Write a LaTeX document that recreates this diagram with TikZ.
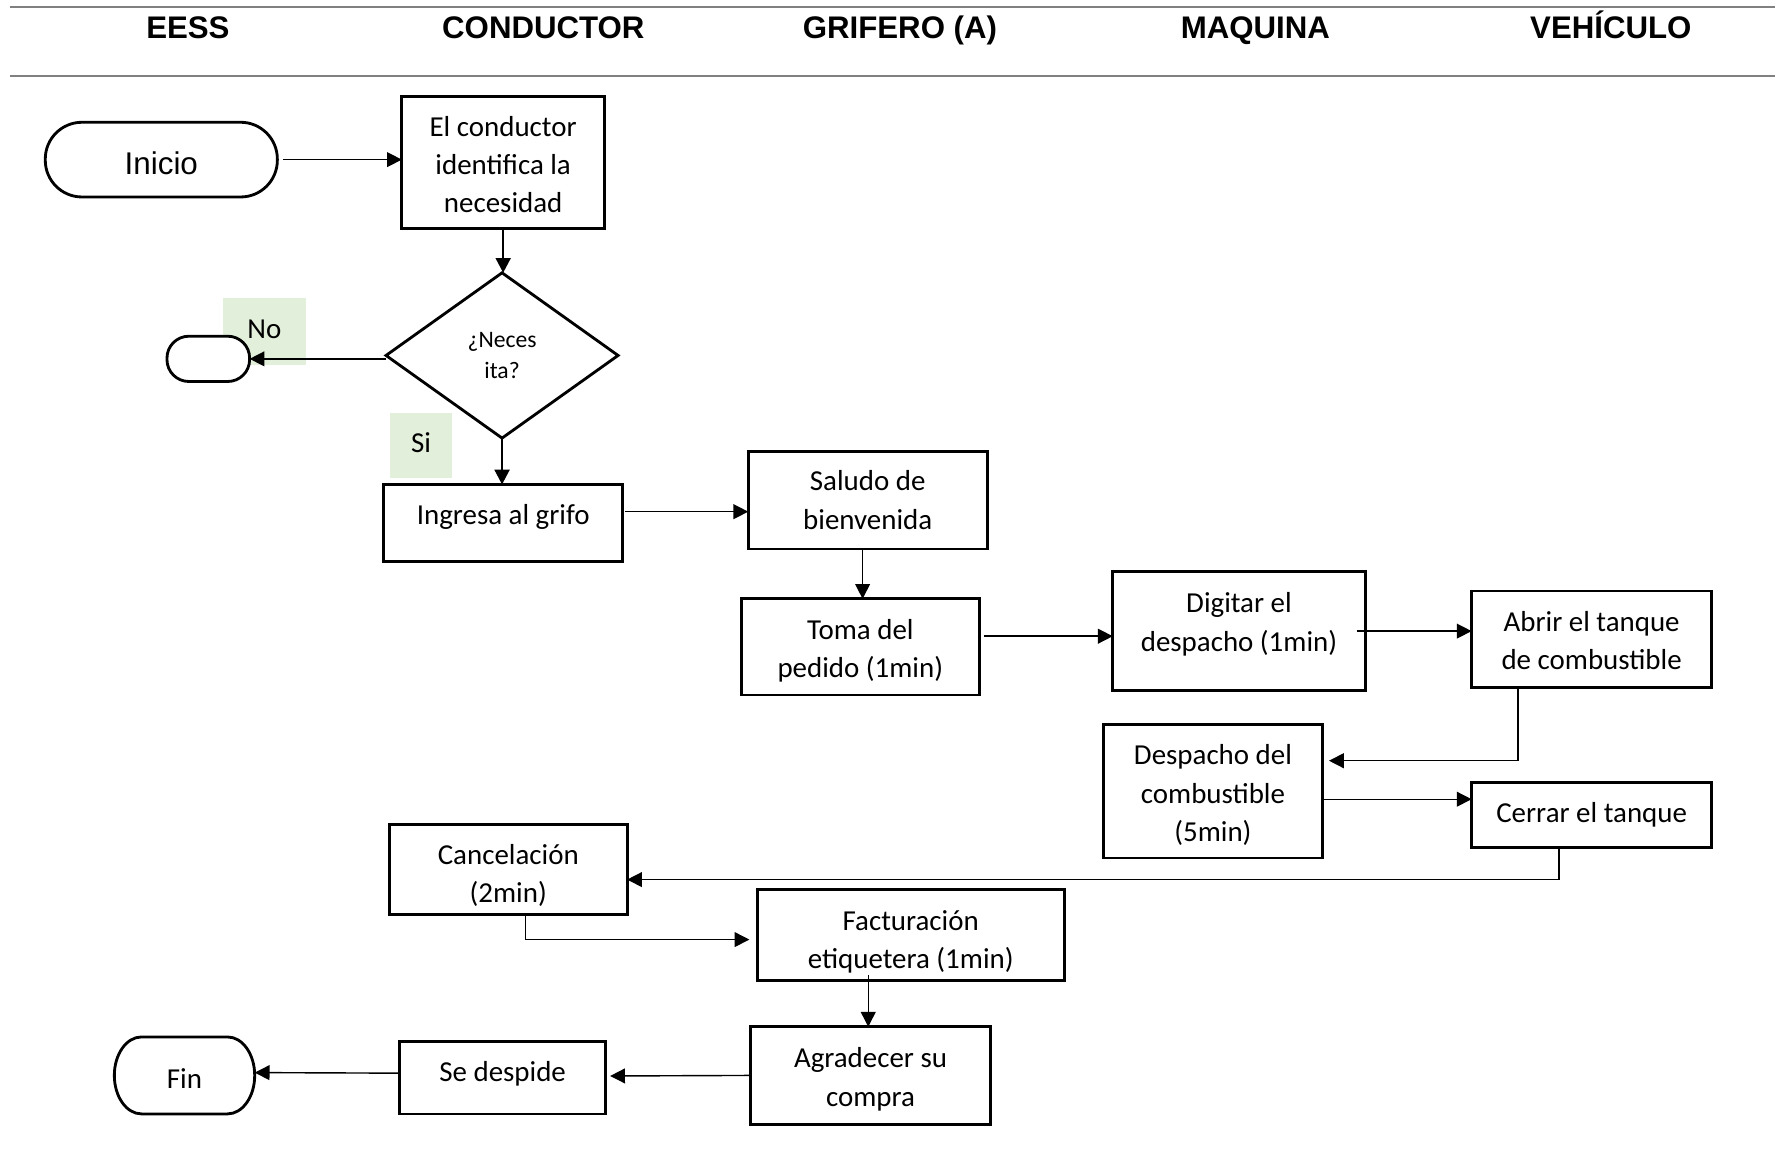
\documentclass[tikz,border=0pt]{standalone}
\usepackage{fontspec}
\setmainfont{Carlito}
\newfontfamily\arialfont{Liberation Sans}
\usetikzlibrary{shapes.geometric,calc,arrows.meta}
\definecolor{lanegray}{HTML}{808080}
\definecolor{lblgreen}{HTML}{E2EFDA}
\def\u{0.32092pt}
% centred block of lines, shifted up by #1
\newcommand\stk[2]{\raisebox{#1}[\height][\depth]{\begin{tabular}{@{}c@{}}#2\end{tabular}}}

\begin{document}
\begin{tikzpicture}[x=\u, y=-\u,
  sz/.style 2 args={minimum width=#1*\u, minimum height=#2*\u},
  cell/.style={draw, line width=0.8pt, fill=white, inner sep=0pt, outer sep=0pt,
    font=\fontsize{8.2}{10.9}\selectfont},
  term/.style={draw, line width=0.8pt, fill=white, inner sep=0pt, outer sep=0pt},
  lane/.style={draw=lanegray, line width=0.6pt},
  lanehead/.style={font=\arialfont\bfseries\fontsize{8.85}{10}\selectfont, anchor=base, inner sep=0pt},
  tag/.style={fill=lblgreen, inner sep=0pt, font=\fontsize{8.2}{10}\selectfont,
    text height=5.4pt, text depth=1.3pt},
  arr/.style={-{Triangle[length=4.2pt,width=4.2pt]}, line width=0.4pt},
  arrthick/.style={arr, line width=0.7pt}]

\useasboundingbox (0,0) rectangle (1568,1023);

% lane header
\draw[lane] (8.8,6.5) -- (1568,6.5);
\draw[lane] (8.8,67) -- (1568,67);
\node[lanehead] (h1) at (166,34) {EESS};
\node[lanehead] (h2) at (480,34) {CONDUCTOR};
\node[lanehead] (h3) at (795,34) {GRIFERO (A)};
\node[lanehead] (h4) at (1109,34) {MAQUINA};
\node[lanehead] (h5) at (1423,34) {VEHÍCULO};

% steps
\node[term, sz={205}{66}, rounded corners=10.4pt, text height=8.3pt, text depth=0pt,
  font=\arialfont\fontsize{8.9}{10}\selectfont] (ini) at (142.5,141) {Inicio};
\node[cell, sz={179}{117}] (idn) at (444.5,143.5) {\stk{-1.24pt}{El conductor\\identifica la\\necesidad}};
\node[draw, diamond, line width=0.8pt, fill=white, inner sep=0pt, outer sep=0pt,
  sz={205}{146}, align=center, font=\fontsize{6.7}{9}\selectfont] (dec) at (443.5,314) {¿Neces\\ita?};
\node[tag, sz={73}{59}] (no) at (233.5,292.5) {No};
\node[term, sz={73}{40}, rounded corners=6.2pt] (noend) at (184,317) {};
\node[tag, sz={55}{57}] (si) at (372,393.5) {Si};
\node[cell, sz={211}{68}, text height=5.4pt, text depth=4.3pt] (ing) at (444.5,462) {Ingresa al grifo};
\node[cell, sz={211}{86}] (sal) at (766.5,442) {\stk{-0.6pt}{Saludo de\\bienvenida}};
\node[cell, sz={210}{85}] (tom) at (760,571.5) {\stk{-1.08pt}{Toma del\\pedido (1min)}};
\node[cell, sz={223}{105}] (dig) at (1094.5,557.5) {\stk{1.97pt}{Digitar el\\despacho (1min)}};
\node[cell, sz={212}{85}] (abr) at (1406,564.5) {\stk{-1.08pt}{Abrir el tanque\\de combustible}};
\node[cell, sz={193}{118}] (des) at (1071.5,699) {\stk{-1.24pt}{Despacho del\\combustible\\(5min)}};
\node[cell, sz={212}{58}] (cer) at (1406,720) {Cerrar el tanque};
\node[cell, sz={210}{80}] (can) at (449,768) {\stk{-1.88pt}{Cancelación\\(2min)}};
\node[cell, sz={271}{80}] (fac) at (804.5,826) {\stk{-1.88pt}{Facturación\\etiquetera (1min)}};
\node[cell, sz={212}{86}] (agr) at (769,950) {\stk{-1.08pt}{Agradecer su\\compra}};
\node[cell, sz={182}{64}, text height=5.4pt, text depth=3.0pt] (sed) at (444,952) {Se despide};
\node[inner sep=0pt, outer sep=0pt, sz={124}{68}, text height=7.3pt, text depth=0pt,
  font=\fontsize{8.2}{10}\selectfont] (fin) at (163,950) {Fin};
\draw[line width=0.8pt]
  ($(fin.north west)+(24,0)$) -- ($(fin.north east)+(-24,0)$)
  .. controls +(13.25,0) and +(0,-18.78) .. (fin.east)
  .. controls +(0,18.78) and +(13.25,0) .. ($(fin.south east)+(-24,0)$)
  -- ($(fin.south west)+(24,0)$)
  .. controls +(-13.25,0) and +(0,18.78) .. (fin.west)
  .. controls +(0,-18.78) and +(-13.25,0) .. cycle;

% connectors
\draw[arr, shorten <=1.6pt] (ini.east) -- (ini.east -| idn.west);
\draw[arrthick] (idn.south) -- (idn.south |- dec.north);
\draw[arr] (dec.west |- noend.east) -- (noend.east);
\draw[arrthick] (dec.south) -- (dec.south |- ing.north);
\draw[arr] ($(ing.east)+(2,-10)$) -- ($(sal.west)+(0,10)$);
\draw[arr] ($(sal.south)+(-4.5,0)$) -- ($(tom.north)+(2,0)$);
\draw[arr] ($(tom.east)+(4,-9.5)$) -- ($(dig.west)+(0,4.5)$);
\draw[arr] ($(dig.east)+(-7.5,0)$) -- (dig.east -| abr.west);
\draw[arr] ($(abr.south west)+(41,0)$) |- ($(des.east)+(6,-27)$);
\draw[arr] ($(des.east)+(0,7)$) -- ($(cer.west)+(0,-14)$);
\draw[arr] ($(cer.south west)+(77,0)$) |- ($(can.east)+(0,9)$);
\draw[arr] ($(can.south)+(15,0)$) |- ($(fac.west)+(-7,4)$);
\draw[arr] ($(fac.south)+(-37.5,-5)$) -- ($(agr.north)+(-2,0)$);
\draw[arr] (agr.west) -- ($(sed.east)+(4,-1.5)$);
\draw[arr] ($(sed.west)+(0,-4)$) -- ($(fin.east)+(0,-2.5)$);
\end{tikzpicture}
\end{document}
